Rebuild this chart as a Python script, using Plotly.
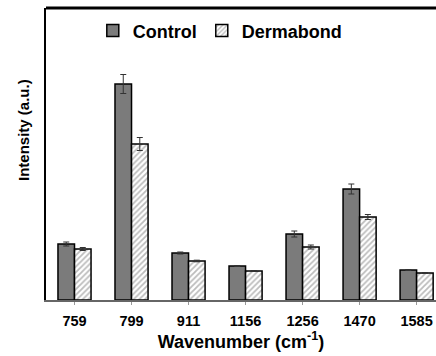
import plotly.graph_objects as go

categories = ["759", "799", "911", "1156", "1256", "1470", "1585"]
control = [0.56, 2.16, 0.47, 0.34, 0.66, 1.11, 0.30]
control_err = [0.02, 0.095, 0.01, 0.005, 0.03, 0.05, 0.005]
dermabond = [0.51, 1.56, 0.39, 0.29, 0.53, 0.83, 0.27]
dermabond_err = [0.015, 0.065, 0.008, 0.005, 0.02, 0.025, 0.005]

FONT = "Arial, 'Liberation Sans', sans-serif"

fig = go.Figure()
fig.add_trace(go.Bar(
    name="Control", x=categories, y=control,
    marker=dict(color="#7b7b7b", line=dict(color="black", width=1.5)),
    error_y=dict(type="data", array=control_err, color="#333333", thickness=1, width=3),
))
fig.add_trace(go.Bar(
    name="Dermabond", x=categories, y=dermabond,
    marker=dict(color="white", line=dict(color="black", width=1.5),
                pattern=dict(shape="/", fgcolor="#7a7a7a", bgcolor="white", size=4, solidity=0.45)),
    error_y=dict(type="data", array=dermabond_err, color="#333333", thickness=1, width=3),
))

fig.update_layout(
    width=436, height=356,
    margin=dict(l=46, r=0, t=8, b=56),
    paper_bgcolor="white", plot_bgcolor="white",
    barmode="group", bargap=0.42, bargroupgap=0,
    font=dict(family=FONT, color="black"),
    showlegend=True,
    legend=dict(orientation="h", x=0.12, xanchor="left", y=0.985, yanchor="top",
                font=dict(size=18, family=FONT, weight="bold"),
                itemwidth=30,
                bgcolor="rgba(0,0,0,0)", itemclick=False),
    xaxis=dict(
        range=[-0.5, 6.34], showgrid=False,
        showline=True, linecolor="#666666", linewidth=2,
        ticks="outside", ticklen=3, tickcolor="#999999", tickwidth=1,
        ticklabelstandoff=4,
        tickfont=dict(size=14.5, family=FONT, weight="bold"),
        title=dict(text="<b>Wavenumber (cm<sup>-1</sup>)</b>", font=dict(size=18, family=FONT), standoff=6),
    ),
    yaxis=dict(
        range=[0, 2.92], showgrid=False, zeroline=False,
        showline=True, linecolor="black", linewidth=2,
        showticklabels=False, ticks="",
    ),
    shapes=[dict(type="line", xref="paper", yref="paper", x0=0, x1=1, y0=1, y1=1,
                 line=dict(color="black", width=3))],
    annotations=[dict(text="<b>Intensity (a.u.)</b>", xref="paper", yref="paper",
                      x=0, xshift=-23, y=(300 - 130) / 292, textangle=-90,
                      showarrow=False, font=dict(size=15, family=FONT),
                      xanchor="center", yanchor="middle")],
)

fig.write_html("out.html")
